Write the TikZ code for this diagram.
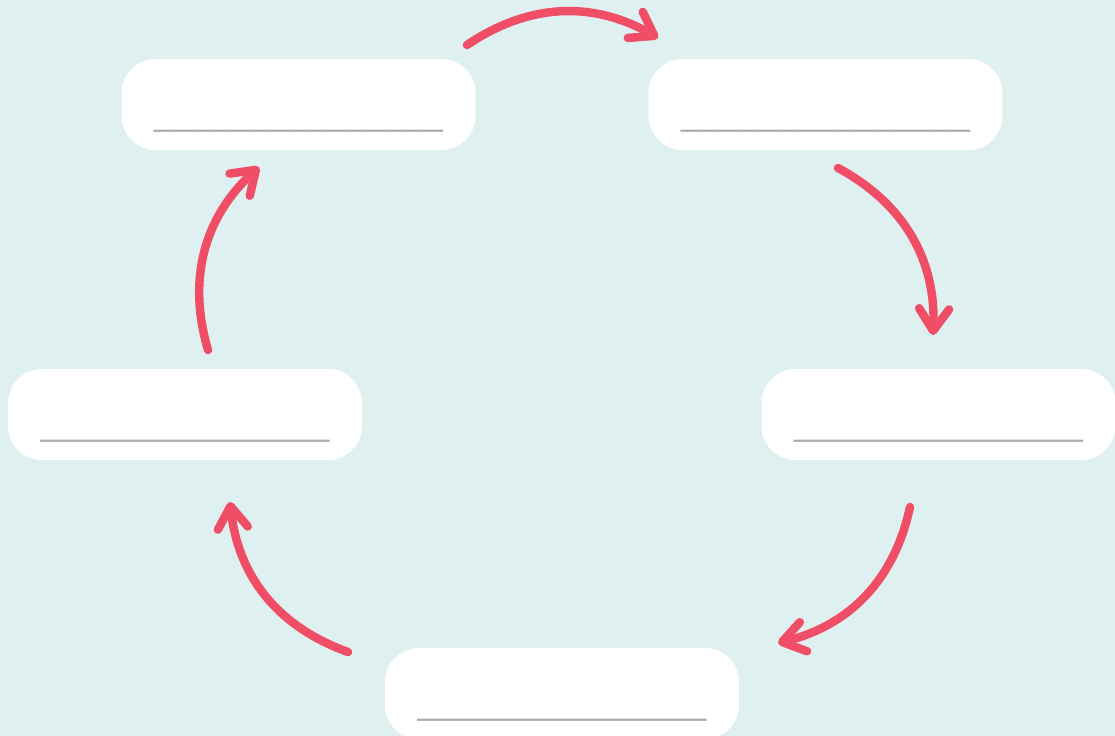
\documentclass[tikz,border=0pt]{standalone}
\usepackage{fontspec}
\setmainfont{Liberation Sans}
\usepackage{xcolor}
\usepackage{tikz}
\usetikzlibrary{positioning,arrows.meta}

\definecolor{bgteal}{RGB}{223,240,240}
\definecolor{pinkred}{RGB}{240,77,102}
\definecolor{linegray}{RGB}{172,172,172}

\begin{document}
\begin{tikzpicture}[
  x=0.02cm, y=-0.02cm,
  >={Straight Barb[length=4.4mm,width=6mm,round]},
  card/.style={fill=white,rounded corners=0.68cm,minimum width=7.08cm,minimum height=1.82cm,inner sep=0pt},
  blank/.style={text=linegray,inner sep=0pt,anchor=base,font=\fontsize{19.7}{24}\selectfont},
  cyc/.style={->,draw=pinkred,line width=4.8pt,line cap=round,bend left=32}
]
\fill[bgteal] (0,0) rectangle (1115,736);
\useasboundingbox (0,0) rectangle (1115,736);

% the five cards
\node[card] (top)   at (298.5,104.5) {};
\node[card] (right) at (825.5,104.5) {};
\node[card] (east)  at (938.5,414.5) {};
\node[card] (bot)   at (562,693.5) {};
\node[card] (west)  at (185,414.5) {};

\node[blank,above=0.36cm of top.south]   (ltop)   {\_\_\_\_\_\_\_\_\_\_\_\_\_\_\_};
\node[blank,above=0.36cm of right.south] (lright) {\_\_\_\_\_\_\_\_\_\_\_\_\_\_\_};
\node[blank,above=0.36cm of east.south]  (least)  {\_\_\_\_\_\_\_\_\_\_\_\_\_\_\_};
\node[blank,above=0.36cm of bot.south]   (lbot)   {\_\_\_\_\_\_\_\_\_\_\_\_\_\_\_};
\node[blank,above=0.36cm of west.south]  (lwest)  {\_\_\_\_\_\_\_\_\_\_\_\_\_\_\_};

% arrow ends
\coordinate (a1) at (467,45);  \coordinate (b1) at (658,38);
\coordinate (a2) at (838,168); \coordinate (b2) at (933,335);
\coordinate (a3) at (910,507); \coordinate (b3) at (778,643);
\coordinate (a4) at (348,652); \coordinate (b4) at (230,502);
\coordinate (a5) at (208,350); \coordinate (b5) at (259,167);

\draw[cyc] (a1) to (b1);
\draw[cyc] (a2) to (b2);
\draw[cyc] (a3) to (b3);
\draw[cyc] (a4) to (b4);
\draw[cyc] (a5) to (b5);
\end{tikzpicture}
\end{document}
